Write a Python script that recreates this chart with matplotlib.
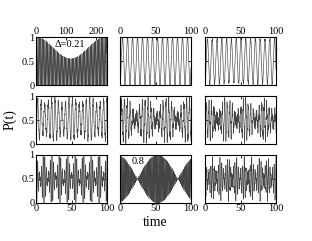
import matplotlib
matplotlib.use("Agg")
import matplotlib.pyplot as plt
import numpy as np

# ---------------------------------------------------------------------------
# data: each panel P(t) = offset + sum amp * cos(2 pi freq t + phase)
# (panels ordered row by row)
# ---------------------------------------------------------------------------
T_MAX = [235, 100, 100, 100, 100, 100, 100, 100, 100]
OFFSET = [0.3875, 0.5, 0.5, 0.52, 0.5, 0.5, 0.5, 0.5, 0.5]
AMPS = [
    [0.1125, -0.3875, -0.05625, -0.05625],
    [-0.5],
    [-0.46, -0.04],
    [-0.36, -0.06, -0.06],
    [-0.24, -0.16, -0.1],
    [-0.22, -0.14, -0.1, -0.04],
    [0.26, 0.18, 0.06],
    [0.25, 0.25],
    [0.22, 0.15, 0.1],
]
FREQS = [
    [1 / 230, 0.22, 0.22 + 1 / 230, 0.22 - 1 / 230],
    [0.142],
    [0.148, 0.9],
    [0.205, 0.245, 1.3],
    [0.24, 0.24 + 1 / 29.5, 1.1],
    [0.27, 0.27 + 1 / 26, 0.95, 1.6],
    [0.4, 0.49, 1.2],
    [0.6 + 1 / 114, 0.6 - 1 / 114],
    [0.38, 0.47, 1.05],
]
PHASES = [
    [0, 0, 0, 0],
    [0],
    [0, 0],
    [0, 0, 0],
    [0, -1.5, 0],
    [0, -1.2, 0.5, 0],
    [0, 0, 0],
    [-np.pi * 53 / 57, np.pi * 53 / 57],
    [0, 0.4, 0],
]
LABELS = {0: ("Δ=0.21", 112, 0.85), 7: ("0.8", 25, 0.875)}

plt.rcParams["font.family"] = ["Liberation Serif", "DejaVu Serif"]

W, H = 312, 241
COL_X = [36, 120, 205]
ROW_Y = [37, 96, 155]
AX_W, AX_H = 71, 48


def signal(i, t):
    p = np.full_like(t, OFFSET[i])
    for a, f, ph in zip(AMPS[i], FREQS[i], PHASES[i]):
        p += a * np.cos(2 * np.pi * f * t + ph)
    return p


def main():
    fig = plt.figure(figsize=(W / 100, H / 100), dpi=100)
    for i in range(9):
        r, c = divmod(i, 3)
        ax = fig.add_axes([COL_X[c] / W, 1 - (ROW_Y[r] + AX_H) / H, AX_W / W, AX_H / H])
        t = np.linspace(0, T_MAX[i], 6000)
        ax.plot(t, signal(i, t), color="#454545", lw=0.45)
        ax.set_xlim(0, T_MAX[i])
        ax.set_ylim(0, 1)
        if i == 0:
            ax.set_xticks([0, 100, 200])
        else:
            ax.set_xticks([0, 50, 100])
        ax.set_yticks([0, 0.5, 1])
        ax.set_yticklabels(["0", "0.5", "1"])
        ax.tick_params(direction="in", length=2, width=0.6, labelsize=7.5, pad=1,
                       top=True, right=True,
                       labeltop=(r == 0), labelbottom=(r == 2), labelleft=(c == 0))
        for s in ax.spines.values():
            s.set_linewidth(0.8)
        if i in LABELS:
            txt, x, y = LABELS[i]
            ax.text(x, y, txt, ha="center", va="center", fontsize=7.5)
    fig.text(155 / W, 1 - 222 / H, "time", ha="center", va="center", fontsize=10)
    fig.text(10 / W, 1 - 120 / H, "P(t)", ha="center", va="center", fontsize=10, rotation=90)
    fig.savefig("out.png", dpi=100)


if __name__ == "__main__":
    main()
